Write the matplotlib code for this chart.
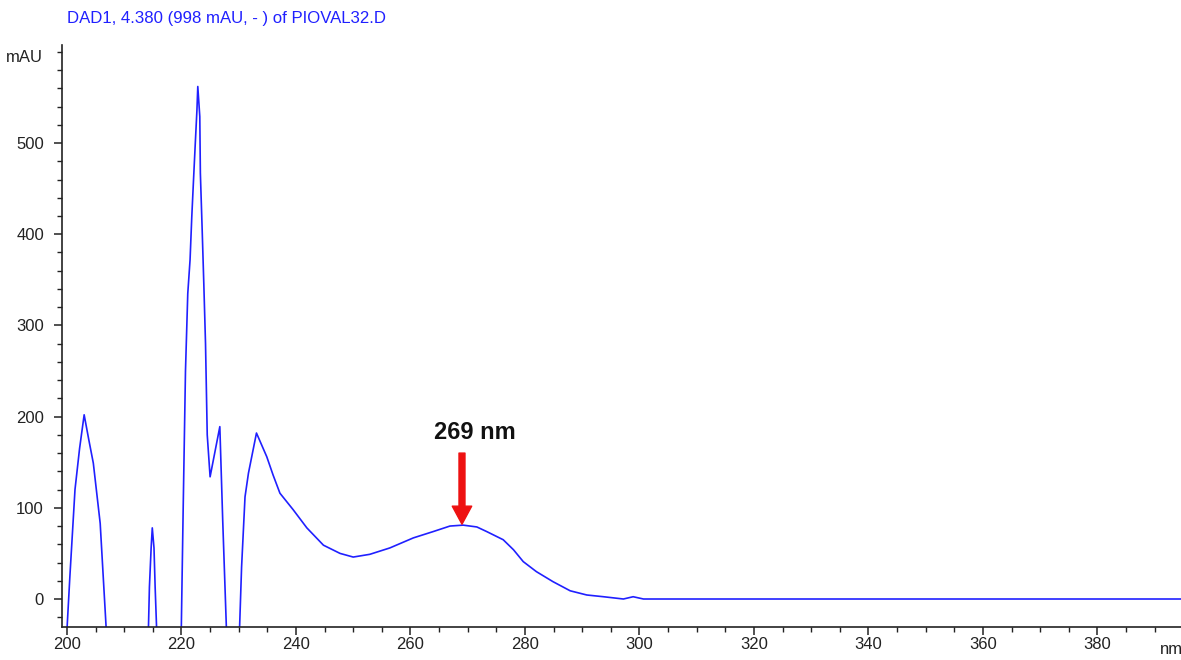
import matplotlib
matplotlib.use("Agg")
import matplotlib.pyplot as plt
from matplotlib.ticker import MultipleLocator

plt.rcParams['font.family'] = ['Liberation Sans', 'DejaVu Sans']

# spectrum (nm, mAU); values below the axis are clipped
wavelength = [199.9, 200.5, 201.4, 202.2, 203.0, 203.8, 204.6, 205.8, 207.1,
              214.2, 214.4, 214.7, 214.9, 215.2, 215.4, 215.7,
              219.9, 220.3, 220.7, 221.1, 221.5, 221.8, 222.1, 222.4, 222.7, 222.85,
              223.2, 223.3, 223.6, 223.9, 224.2, 224.5, 225.0, 226.7, 227.2, 228.0,
              230.0, 230.5, 231.1, 231.7, 233.1, 234.9, 236.0, 237.2, 239.5, 241.9,
              244.8, 247.7, 250.0, 252.9, 256.4, 260.5, 264.0, 266.9, 269.2, 271.6,
              273.3, 276.2, 278.0, 279.7, 282.0, 284.9, 287.9, 290.8, 293.7, 297.2,
              298.9, 300.7, 320.0, 350.0, 395.0]
absorbance = [-45, 24, 120, 165, 202, 175, 149, 83, -60,
              -40, 13, 56, 78, 56, 13, -40,
              -60, 100, 250, 335, 372, 419, 459, 498, 536, 562,
              529, 467, 408, 346, 280, 180, 134, 189, 87, -60,
              -60, 35, 112, 138, 182, 156, 136, 116, 98, 78,
              59, 50, 46, 49, 56, 67, 74, 80, 81, 79,
              74, 65, 54, 41, 30, 19, 9, 4.4, 2.5, 0,
              2.5, 0, 0, 0, 0]

peak_nm = 269
peak_label = "269 nm"
title = "DAD1, 4.380 (998 mAU, - ) of PIOVAL32.D"

fig = plt.figure(figsize=(11.81, 6.6), dpi=100)
ax = fig.add_axes([62/1181, 33/660, 1 - 62/1181, (627 - 45)/660])

ax.plot(wavelength, absorbance, color='#2020ff', lw=1.2)

ax.set_xlim(199.13, 394.6)
ax.set_ylim(-30.7, 607.5)

ax.xaxis.set_major_locator(MultipleLocator(20))
ax.xaxis.set_minor_locator(MultipleLocator(5))
ax.yaxis.set_major_locator(MultipleLocator(100))
ax.yaxis.set_minor_locator(MultipleLocator(20))
ax.set_yticks([0, 100, 200, 300, 400, 500])

for s in ['top', 'right']:
    ax.spines[s].set_visible(False)
for s in ['left', 'bottom']:
    ax.spines[s].set_linewidth(1.2)
    ax.spines[s].set_color('#222222')

ax.tick_params(axis='both', which='major', direction='out', length=6, width=1.1,
               labelsize=12, colors='#222222')
ax.tick_params(axis='both', which='minor', direction='out', length=3.5, width=1.0,
               colors='#222222')
ax.tick_params(axis='x', which='major', pad=1.5)
ax.tick_params(axis='y', which='major', pad=7)

# peak marker
ax.annotate('', xy=(peak_nm, 82), xytext=(peak_nm, 160),
            arrowprops=dict(facecolor='#ee1111', edgecolor='#ee1111',
                            width=4.3, headwidth=14, headlength=13))
ax.text(271.3, 183, peak_label, ha='center', va='center',
        fontsize=17, fontweight='bold', color='#111111')

fig.text(67/1181, 1 - 19/660, title, ha='left', va='center',
         fontsize=12.1, color='#2020ff')
fig.text(43/1181, 1 - 57/660, 'mAU', ha='right', va='center',
         fontsize=12, color='#222222')
fig.text(1160/1181, 1 - 649/660, 'nm', ha='left', va='center',
         fontsize=12, color='#222222')

fig.savefig('out.png', dpi=100)
